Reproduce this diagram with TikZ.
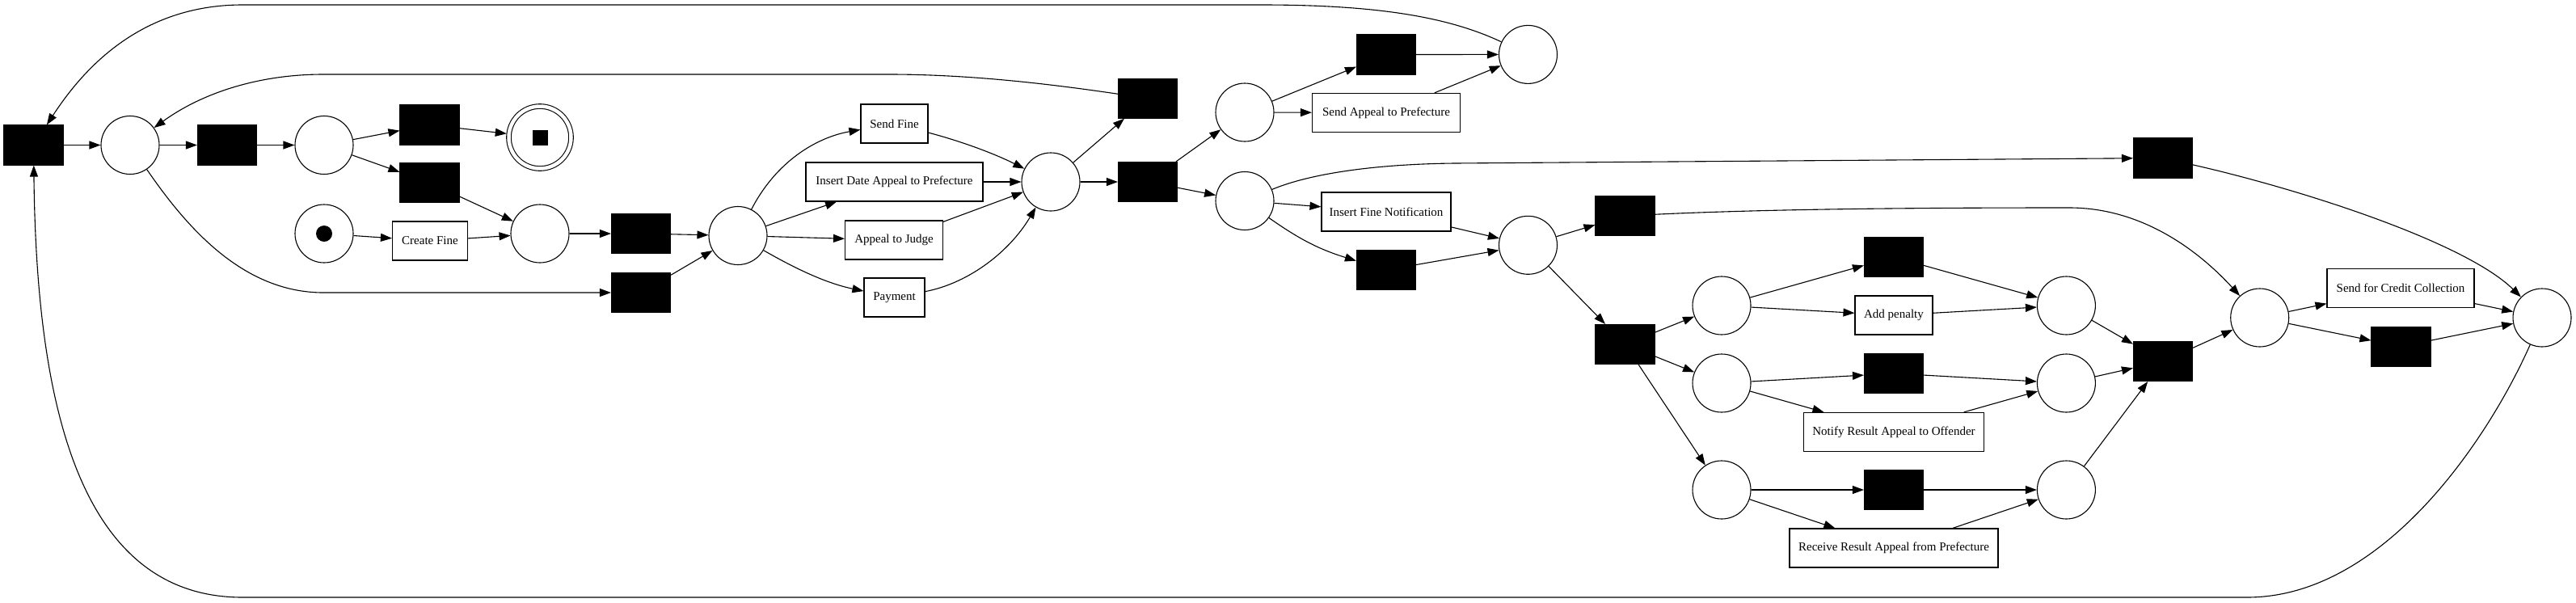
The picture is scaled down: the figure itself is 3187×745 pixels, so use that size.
\documentclass[tikz,border=0pt]{standalone}
\usepackage{fontspec}
\setmainfont{Liberation Serif}
\usetikzlibrary{arrows.meta}
\begin{document}
\begin{tikzpicture}[x=1pt,y=1pt,
  place/.style={circle,draw,line width=1.1pt,minimum size=72pt,inner sep=0pt},
  trans/.style={rectangle,draw,fill=black,line width=1.1pt,minimum width=73pt,minimum height=49pt,inner sep=0pt},
  lbl/.style={rectangle,draw,line width=1.1pt,minimum height=48pt,inner sep=0pt,font=\fontsize{15}{18}\selectfont},
  pnarrow/.style={line width=1.1pt,-{Triangle[length=14pt,width=10pt]}},
]
\useasboundingbox (0,0) rectangle (3187,-745);
% places
\node[place] (p1) at (161,-179.5) {};
\node[place] (p2) at (401,-179.5) {};
\node[place,double,double distance=4.5pt,minimum size=77pt,outer sep=3pt] (pend) at (668,-170) {};
\node[fill=black,minimum size=19pt,inner sep=0pt] (pendtok) at (pend.center) {};
\node[place] (psrc) at (401,-289) {};
\node[circle,fill=black,minimum size=20pt,inner sep=0pt] (srctok) at (psrc.center) {};
\node[place] (p3) at (668,-289) {};
\node[place] (p4) at (913,-291.5) {};
\node[place] (p5) at (1300,-225) {};
\node[place] (p6) at (1540,-139) {};
\node[place] (p7) at (1540,-248.5) {};
\node[place] (p8) at (1890.5,-67.4) {};
\node[place] (p9) at (1890.5,-303.3) {};
\node[place] (p10) at (2130,-378) {};
\node[place] (p11) at (2130,-474) {};
\node[place] (p12) at (2130,-606) {};
\node[place] (p13) at (2556.4,-378) {};
\node[place] (p14) at (2556.4,-474) {};
\node[place] (p15) at (2556.4,-606) {};
\node[place] (p16) at (2795.7,-393) {};
\node[place] (p17) at (3145,-393) {};
% silent transitions
\node[trans] (t0) at (41.5,-179.5) {};
\node[trans] (t1) at (281,-179.5) {};
\node[trans] (t2) at (531.5,-154.5) {};
\node[trans] (t3) at (531.5,-226) {};
\node[trans] (t4) at (793,-289) {};
\node[trans] (t5) at (793,-362) {};
\node[trans] (t6) at (1420,-121.7) {};
\node[trans] (t7) at (1420,-225) {};
\node[trans] (t8) at (1715,-67.5) {};
\node[trans] (t9) at (2676,-195.5) {};
\node[trans] (t10) at (1715,-334) {};
\node[trans] (t11) at (2010.5,-267) {};
\node[trans] (t12) at (2010.5,-426) {};
\node[trans] (t13) at (2343,-318) {};
\node[trans] (t14) at (2343,-462) {};
\node[trans] (t15) at (2343,-606) {};
\node[trans] (t16) at (2676,-447) {};
\node[trans] (t17) at (2970.5,-428.7) {};
% labelled transitions
\node[lbl,minimum width=93pt] (createfine) at (532,-298) {Create Fine};
\node[lbl,minimum width=83pt] (sendfine) at (1106.5,-153) {Send Fine};
\node[lbl,minimum width=219pt] (insertdate) at (1106.5,-225) {Insert Date Appeal to Prefecture};
\node[lbl,minimum width=121pt] (appealjudge) at (1106,-297) {Appeal to Judge};
\node[lbl,minimum width=75pt] (payment) at (1106.5,-368) {Payment};
\node[lbl,minimum width=183pt] (sendappeal) at (1715,-139.4) {Send Appeal to Prefecture};
\node[lbl,minimum width=160pt] (insertfine) at (1715,-262) {Insert Fine Notification};
\node[lbl,minimum width=96pt] (addpenalty) at (2343,-390) {Add penalty};
\node[lbl,minimum width=223pt] (notify) at (2343,-534.4) {Notify Result Appeal to Offender};
\node[lbl,minimum width=258pt] (receive) at (2343,-678) {Receive Result Appeal from Prefecture};
\node[lbl,minimum width=182pt] (sendcredit) at (2970,-356.5) {Send for Credit Collection};
% straight arcs
\foreach \a/\b in {t0/p1,p1/t1,t1/p2,p2/t2,p2/t3,t2/pend,t3/p3,psrc/createfine,createfine/p3,
  p3/t4,t4/p4,t5/p4,p4/insertdate,p4/appealjudge,insertdate/p5,appealjudge/p5,p5/t6,p5/t7,
  t7/p6,t7/p7,p6/t8,p6/sendappeal,t8/p8,sendappeal/p8,p7/insertfine,insertfine/p9,t10/p9,
  p9/t11,p9/t12,t12/p10,t12/p11,t12/p12,p10/t13,p10/addpenalty,p11/t14,p11/notify,p12/t15,p12/receive,
  t13/p13,addpenalty/p13,t14/p14,notify/p14,t15/p15,receive/p15,p13/t16,p14/t16,p15/t16,t16/p16,
  p16/sendcredit,p16/t17,sendcredit/p17,t17/p17}
  \draw[pnarrow] (\a) -- (\b);
% curved arcs
\draw[pnarrow] (p7) to[bend right=9] (t10);
\draw[pnarrow] (p8) .. controls (1790,-20) and (1700,-6) .. (1560,-6) -- (300,-6)
  .. controls (170,-6) and (100,-90) .. (t0);
\draw[pnarrow] (t6) .. controls (1300,-104) and (1200,-92) .. (1100,-92) -- (400,-92)
  .. controls (320,-92) and (250,-115) .. (p1);
\draw[pnarrow] (p1) .. controls (230,-280) and (300,-362) .. (400,-362) -- (t5);
\draw[pnarrow] (p4) .. controls (960,-200) and (1010,-170) .. (sendfine);
\draw[pnarrow] (p4) .. controls (980,-330) and (1020,-350) .. (payment);
\draw[pnarrow] (sendfine) .. controls (1190,-175) and (1230,-190) .. (p5);
\draw[pnarrow] (payment) .. controls (1200,-350) and (1250,-310) .. (p5);
\draw[pnarrow] (p7) .. controls (1620,-215) and (1700,-203) .. (1800,-202) -- (t9);
\draw[pnarrow] (t11) .. controls (2200,-258) and (2400,-257) .. (2560,-257)
  .. controls (2650,-257) and (2720,-310) .. (p16);
\draw[pnarrow] (t9) .. controls (2850,-235) and (3050,-300) .. (p17);
\draw[pnarrow] (p17) .. controls (3080,-540) and (2950,-739) .. (2780,-739) -- (300,-739)
  .. controls (90,-739) and (45,-480) .. (t0);
\end{tikzpicture}
\end{document}
